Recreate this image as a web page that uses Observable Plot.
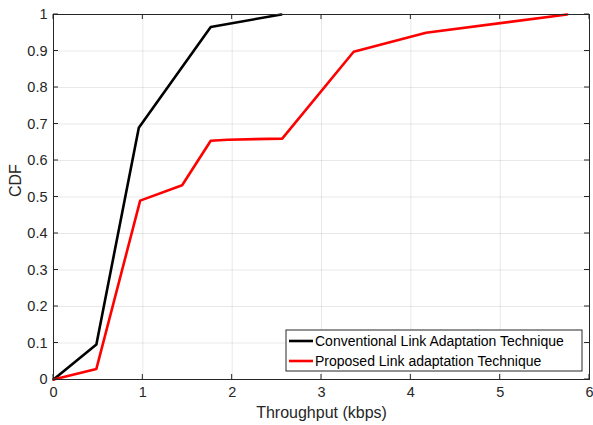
<!DOCTYPE html>
<html><head><meta charset="utf-8">
<script src="https://cdn.jsdelivr.net/npm/d3@7"></script>
<script src="https://cdn.jsdelivr.net/npm/@observablehq/plot@0.6"></script>
<style>
body{margin:0;background:#fff;}
svg{font-family:"Liberation Sans",Arial,sans-serif;}
</style></head>
<body><div id="chart"></div>
<script>
const seriesNames = ["Conventional Link Adaptation Technique", "Proposed Link adaptation Technique"];
const seriesColors = ["#000000", "#ff0000"];
const convX = [0, 0.48, 0.955, 1.76, 2.55];
const convY = [0, 0.096, 0.69, 0.966, 1.0];
const propX = [0, 0.48, 0.97, 1.44, 1.76, 1.95, 2.56, 3.36, 4.17, 5.75];
const propY = [0, 0.029, 0.49, 0.532, 0.654, 0.657, 0.66, 0.898, 0.95, 1.0];
const xTicks = [0, 1, 2, 3, 4, 5, 6];
const yTicks = [0, 0.1, 0.2, 0.3, 0.4, 0.5, 0.6, 0.7, 0.8, 0.9, 1];

const data = [
  ...convX.map((x, i) => ({x, y: convY[i], s: seriesNames[0]})),
  ...propX.map((x, i) => ({x, y: propY[i], s: seriesNames[1]}))
];

const axisColor = "#262626";
const chart = Plot.plot({
  width: 593, height: 425,
  marginLeft: 53, marginRight: 4, marginTop: 14, marginBottom: 46,
  style: {fontSize: "14px", color: axisColor, background: "#fff"},
  x: {domain: [0, 6], ticks: xTicks, label: null},
  y: {domain: [0, 1], ticks: yTicks, label: null},
  color: {domain: seriesNames, range: seriesColors},
  marks: [
    Plot.gridX(xTicks, {stroke: "#000", strokeOpacity: 0.09}),
    Plot.gridY(yTicks, {stroke: "#000", strokeOpacity: 0.09}),
    Plot.axisX(xTicks, {anchor: "bottom", tickSize: 0, tickPadding: 7, tickFormat: d => d, fill: axisColor}),
    Plot.axisY(yTicks, {anchor: "left", tickSize: 0, tickPadding: 6, tickFormat: d => d, fill: axisColor}),
    Plot.line(data, {x: "x", y: "y", z: "s", stroke: "s", strokeWidth: 2.6}),
    Plot.frame({stroke: axisColor, strokeWidth: 1}),
    Plot.text(["Throughput (kbps)"], {frameAnchor: "bottom", dy: 38, fontSize: 16, fill: axisColor}),
    Plot.text(["CDF"], {frameAnchor: "left", rotate: -90, dx: -38, fontSize: 16, fill: axisColor})
  ]
});
document.getElementById("chart").appendChild(chart);

const svg = d3.select(chart);
const tickStrings = new Set([...xTicks, ...yTicks].map(String));
svg.selectAll("text").each(function () {
  if (tickStrings.has(this.textContent.trim())) {
    this.setAttribute("font-size", "14.5");
    this.style.fontSize = "14.5px";
    if (this.parentNode) this.parentNode.style.fontSize = "14.5px";
  }
});
const x = chart.scale("x"), y = chart.scale("y");
const x0 = x.apply(0), x1 = x.apply(6), y0 = y.apply(0), y1 = y.apply(1);
const tk = svg.append("g").attr("stroke", axisColor).attr("stroke-width", 1);
xTicks.forEach(t => {
  const px = x.apply(t);
  tk.append("line").attr("x1", px).attr("x2", px).attr("y1", y0).attr("y2", y0 - 5);
  tk.append("line").attr("x1", px).attr("x2", px).attr("y1", y1).attr("y2", y1 + 5);
});
yTicks.forEach(t => {
  const py = y.apply(t);
  tk.append("line").attr("x1", x0).attr("x2", x0 + 5).attr("y1", py).attr("y2", py);
  tk.append("line").attr("x1", x1).attr("x2", x1 - 5).attr("y1", py).attr("y2", py);
});

// legend inside axes (bottom-right)
const right = x1 - 7, bottom = y0 - 8;
const lw = 296, lh = 41;
const g = svg.append("g").attr("text-anchor", "start");
g.append("rect").attr("x", right - lw).attr("y", bottom - lh).attr("width", lw).attr("height", lh)
  .attr("fill", "#fff").attr("stroke", axisColor).attr("stroke-width", 1);
seriesNames.forEach((name, i) => {
  const cy = bottom - lh + 11 + i * 20;
  g.append("line").attr("x1", right - lw + 3).attr("x2", right - lw + 27).attr("y1", cy).attr("y2", cy)
    .attr("stroke", seriesColors[i]).attr("stroke-width", 2.6);
  g.append("text").attr("x", right - lw + 29).attr("y", cy).attr("dy", "0.35em")
    .attr("font-size", 14).attr("fill", "#000").text(name);
});
</script></body></html>
